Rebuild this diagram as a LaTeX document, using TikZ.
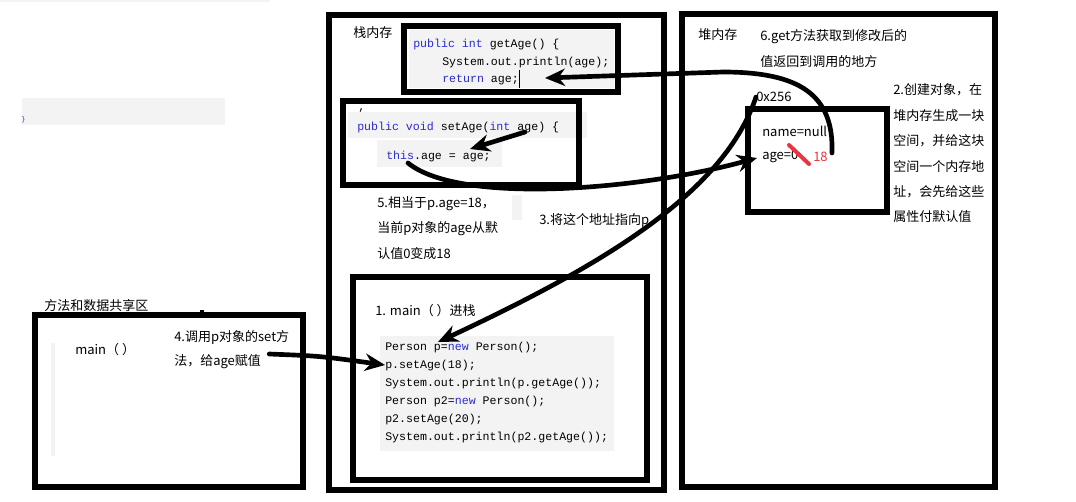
\documentclass[tikz,border=0pt]{standalone}
\usepackage{fontspec}
\setmainfont{Noto Sans CJK SC}
\setmonofont{Liberation Mono}
\usepackage{xcolor}
\usetikzlibrary{arrows.meta,positioning}
\definecolor{CodeBg}{HTML}{F3F3F3}
\definecolor{Kw}{HTML}{2B2BD0}
\definecolor{Mark}{HTML}{E8353F}
\newcommand{\kw}[1]{\textcolor{Kw}{#1}}

\begin{document}
\begin{tikzpicture}[x=0.75pt,y=-0.75pt,font=\fontsize{9.75}{12}\selectfont,
  >={Stealth[length=15pt,width=13pt]},
  box/.style={draw,line width=3.8pt},
  txt/.style={anchor=west,inner sep=0pt},
  code/.style={anchor=west,inner sep=0pt,font=\ttfamily\fontsize{8.7}{10}\selectfont},
  hand/.style={line width=3.5pt,line cap=round}]
  \useasboundingbox (0,0) rectangle (1076,501);
  % stray bits top left
  \fill[CodeBg] (0,0) rectangle (270,1.5);
  \fill[CodeBg] (22,98) rectangle (225,125);
  \node[txt,font=\ttfamily\fontsize{5}{6}\selectfont,text=Kw] (brace) at (21,120) {\}};
  % code backgrounds
  \fill[CodeBg] (409,30) rectangle (614,88);
  \fill[CodeBg] (348,112) rectangle (587,138);
  \fill[CodeBg] (377,140) rectangle (502,167);
  \fill[CodeBg] (512,195) rectangle (522,220);
  \fill[CodeBg] (380,336) rectangle (614,451);
  \fill[CodeBg] (51,343) rectangle (55,456);
  % boxes
  \draw[box] (329,15) rectangle (664,490);
  \draw[box] (682,14) rectangle (995,487);
  \draw[box] (35,315) rectangle (303,487);
  \draw[box] (404,26) rectangle (618,92);
  \draw[box] (343,101) rectangle (579,185);
  \draw[box] (353,277) rectangle (647,480);
  \draw[box] (748,109) rectangle (887,212);
  \draw[line width=2pt] (200,311) -- (204,311);
  % stack
  \node[txt] (stack) at (353,33) {栈内存};
  \node[code] (g1) at (413,44) {\kw{public} \kw{int} getAge() \{};
  \node[code] (g2) at (442,62) {System.out.println(age);};
  \node[code] (g3) at (442,80) {\kw{return} age;};
  \draw[line width=0.6pt] (519,70) -- (519,88);
  \node[code] (comma) at (358,111) {,};
  \node[code] (s1) at (357,127) {\kw{public} \kw{void} setAge(\kw{int} age) \{};
  \node[code] (s2) at (386,156) {\kw{this}.age = age;};
  \node[txt] (five1) at (377,204) {5.相当于p.age=18，};
  \node[txt] (five2) at (377,229) {当前p对象的age从默};
  \node[txt] (five3) at (377,254) {认值0变成18};
  \node[txt] (three) at (539,220) {3.将这个地址指向p};
  \node[txt] (one) at (375,311) {1. main（ ）进栈};
  \node[code] (m1) at (385,347) {Person p=\kw{new} Person();};
  \node[code] (m2) at (385,365) {p.setAge(18);};
  \node[code] (m3) at (385,383) {System.out.println(p.getAge());};
  \node[code] (m4) at (385,401) {Person p2=\kw{new} Person();};
  \node[code] (m5) at (385,419) {p2.setAge(20);};
  \node[code] (m6) at (385,437) {System.out.println(p2.getAge());};
  % method area
  \node[txt] (area) at (44,306) {方法和数据共享区};
  \node[txt] (mainm) at (75,350) {main（ ）};
  \node[txt] (four1) at (174,337) {4.调用p对象的set方};
  \node[txt] (four2) at (174,362) {法，给age赋值};
  % heap
  \node[txt] (heap) at (698,35) {堆内存};
  \node[txt] (six1) at (760,37) {6.get方法获取到修改后的};
  \node[txt] (six2) at (760,62) {值返回到调用的地方};
  \node[txt] (addr) at (756,97) {0x256};
  \node[txt] (name) at (762,131) {name=null};
  \node[txt] (age) at (762,156) {age=0};
  \node[txt,text=Mark] (new) at (813,157) {18};
  \draw[Mark,line width=3pt,line cap=round] (789,145) -- (809,164);
  \node[txt] (two1) at (893,90) {2.创建对象，在};
  \node[txt] (two2) at (893,116) {堆内存生成一块};
  \node[txt] (two3) at (893,141) {空间，并给这块};
  \node[txt] (two4) at (893,167) {空间一个内存地};
  \node[txt] (two5) at (893,192) {址，会先给这些};
  \node[txt] (two6) at (893,217) {属性付默认值};
  % arrows
  \coordinate (ret) at (545,78);
  \coordinate (getS) at (832,153);
  \coordinate (thisS) at (408,163);
  \coordinate (ageT) at (757,158);
  \coordinate (argS) at (525,132);
  \coordinate (argT) at (470,149);
  \coordinate (pT) at (438,342);
  \draw[hand,->] (getS) .. controls (834,95) and (800,72) .. (723,72) -- (ret);
  \draw[hand,->] (argS) -- (argT);
  \draw[hand,->] (thisS) .. controls (460,205) and (640,190) .. (ageT);
  \draw[hand,->] (addr.west) .. controls (725,190) and (610,262) .. (pT);
  \draw[hand,->] (four2.east) ++(8,-8) .. controls (320,356) .. (m2.west);
\end{tikzpicture}
\end{document}
